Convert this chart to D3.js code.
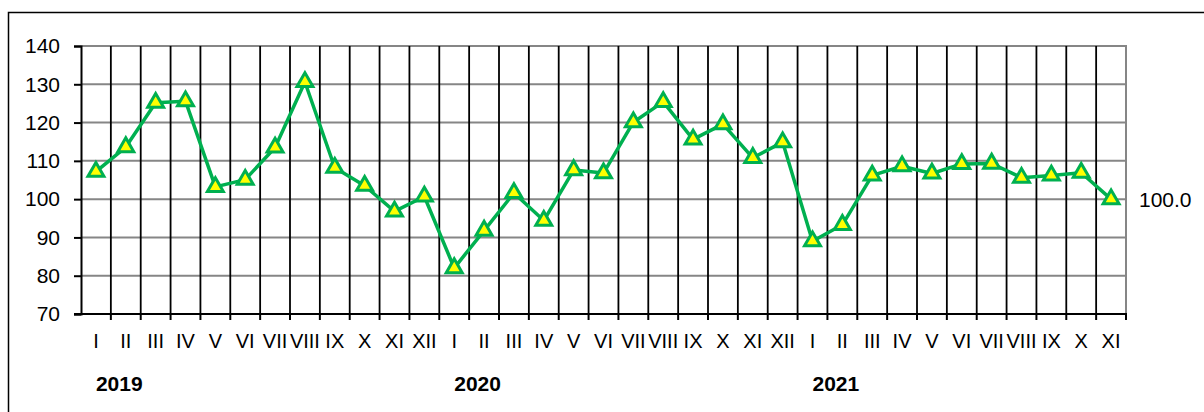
<!DOCTYPE html>
<html>
<head>
<meta charset="utf-8">
<script src="https://cdn.jsdelivr.net/npm/d3@7"></script>
<style>
  html, body { margin: 0; padding: 0; background: #fff; }
  svg { display: block; font-family: "Liberation Sans", Arial, sans-serif; }
</style>
</head>
<body>
<div id="chart"></div>
<script>
const months = ["I", "II", "III", "IV", "V", "VI", "VII", "VIII", "IX", "X", "XI", "XII"];
const years = ["2019", "2020", "2021"];
const values2019 = [107.2, 113.6, 125.2, 125.6, 103.2, 105.1, 113.5, 130.6, 108.2, 103.5, 96.8, 100.7];
const values2020 = [82.0, 91.8, 101.6, 94.4, 107.6, 106.8, 120.1, 125.4, 115.6, 119.6, 110.8, 114.9];
const values2021 = [89.0, 93.3, 106.2, 108.6, 106.7, 109.2, 109.3, 105.6, 106.2, 106.9, 100.0];
const yTicks = [70, 80, 90, 100, 110, 120, 130, 140];

const width = 1204;
const height = 412;
const marginLeft = 81;
const marginRight = 78;
const marginTop = 46;
const plotBottom = 314;

const lineColor = "#00b050";
const markerFill = "#ffff00";

// flatten the three years into one series
const data = [];
[values2019, values2020, values2021].forEach((vals, yi) => {
  vals.forEach((v, mi) => {
    data.push({ key: `${years[yi]}-${mi}`, year: years[yi], month: months[mi], value: v });
  });
});

const svg = d3.select("#chart")
  .append("svg")
  .attr("width", width)
  .attr("height", height)
  .attr("viewBox", [0, 0, width, height]);

svg.append("rect")
  .attr("width", width)
  .attr("height", height)
  .attr("fill", "#fff");

// outer chart frame (runs off right/bottom of the picture)
svg.append("rect")
  .attr("x", 8.5)
  .attr("y", 12.5)
  .attr("width", width + 10)
  .attr("height", height + 10)
  .attr("fill", "none")
  .attr("stroke", "#000")
  .attr("stroke-width", 1.5);

const x = d3.scaleBand()
  .domain(data.map((d) => d.key))
  .range([marginLeft, width - marginRight]);

const y = d3.scaleLinear()
  .domain([70, 140])
  .range([plotBottom, marginTop]);

// horizontal gridlines
svg.append("g")
  .selectAll("line")
  .data(yTicks.filter((d) => d > 70))
  .join("line")
  .attr("x1", marginLeft)
  .attr("x2", width - marginRight)
  .attr("y1", (d) => y(d))
  .attr("y2", (d) => y(d))
  .attr("stroke", "#868686")
  .attr("stroke-width", 2);

// vertical gridlines at category boundaries
const boundaries = data.slice(1).map((d) => x(d.key));
svg.append("g")
  .selectAll("line")
  .data(boundaries)
  .join("line")
  .attr("x1", (d) => d)
  .attr("x2", (d) => d)
  .attr("y1", marginTop)
  .attr("y2", plotBottom)
  .attr("stroke", "#000")
  .attr("stroke-width", 1.8);

// right edge of plot area
svg.append("line")
  .attr("x1", width - marginRight)
  .attr("x2", width - marginRight)
  .attr("y1", marginTop - 1)
  .attr("y2", plotBottom)
  .attr("stroke", "#868686")
  .attr("stroke-width", 2);

// y axis
const yAxis = svg.append("g")
  .attr("transform", `translate(${marginLeft},0)`)
  .call(d3.axisLeft(y).tickValues(yTicks).tickSize(7).tickPadding(14).tickFormat(d3.format("d")));
yAxis.select(".domain").attr("stroke", "#000").attr("stroke-width", 2);
yAxis.selectAll(".tick line").attr("stroke", "#000").attr("stroke-width", 2);
yAxis.selectAll(".tick text")
  .attr("font-size", 21)
  .attr("fill", "#000")
  .attr("font-family", "Liberation Sans, Arial, sans-serif");

// x axis line and ticks
svg.append("line")
  .attr("x1", marginLeft - 7)
  .attr("x2", width - marginRight + 1)
  .attr("y1", plotBottom)
  .attr("y2", plotBottom)
  .attr("stroke", "#000")
  .attr("stroke-width", 2);

svg.append("g")
  .selectAll("line")
  .data([...boundaries, width - marginRight])
  .join("line")
  .attr("x1", (d) => d)
  .attr("x2", (d) => d)
  .attr("y1", plotBottom)
  .attr("y2", plotBottom + 6)
  .attr("stroke", "#000")
  .attr("stroke-width", 2);

// month labels
svg.append("g")
  .selectAll("text")
  .data(data)
  .join("text")
  .attr("x", (d) => x(d.key) + x.bandwidth() / 2)
  .attr("y", 348)
  .attr("text-anchor", "middle")
  .attr("font-size", 20)
  .attr("fill", "#000")
  .text((d) => d.month);

// year labels, starting at January of each year
svg.append("g")
  .selectAll("text")
  .data(years)
  .join("text")
  .attr("x", (d) => x(`${d}-0`) + x.bandwidth() / 2)
  .attr("y", 391)
  .attr("font-size", 21)
  .attr("font-weight", "bold")
  .attr("fill", "#000")
  .text((d) => d);

// line
const line = d3.line()
  .x((d) => x(d.key) + x.bandwidth() / 2)
  .y((d) => y(d.value));

svg.append("path")
  .datum(data)
  .attr("fill", "none")
  .attr("stroke", lineColor)
  .attr("stroke-width", 3.5)
  .attr("stroke-linejoin", "round")
  .attr("d", line);

// triangle markers
const tri = d3.symbol().type(d3.symbolTriangle).size(110);
svg.append("g")
  .selectAll("path")
  .data(data)
  .join("path")
  .attr("transform", (d) => `translate(${x(d.key) + x.bandwidth() / 2},${y(d.value)})`)
  .attr("d", tri)
  .attr("fill", markerFill)
  .attr("stroke", lineColor)
  .attr("stroke-width", 3)
  .attr("stroke-linejoin", "miter");

// last value label
const last = data[data.length - 1];
svg.append("text")
  .attr("x", width - marginRight + 13)
  .attr("y", y(last.value))
  .attr("dy", "0.36em")
  .attr("font-size", 21)
  .attr("fill", "#000")
  .text(d3.format(".1f")(last.value));
</script>
</body>
</html>
